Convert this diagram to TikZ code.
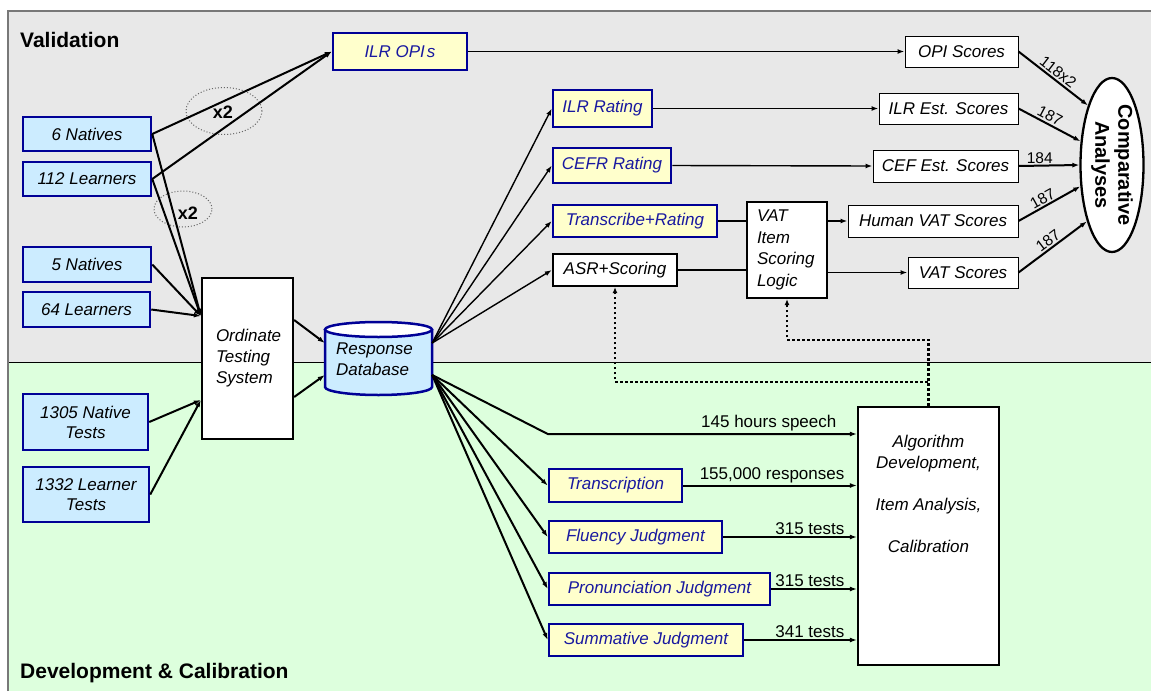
\documentclass[tikz,border=0pt]{standalone}
\usepackage{fontspec}
\setmainfont{Liberation Sans}
\usetikzlibrary{arrows.meta,calc,shapes.geometric}
\definecolor{bggray}{RGB}{232,232,232}
\definecolor{bggreen}{RGB}{221,255,221}
\definecolor{lblue}{RGB}{204,236,255}
\definecolor{lyellow}{RGB}{255,255,204}
\definecolor{navy}{RGB}{0,0,150}
\definecolor{tblue}{RGB}{25,25,160}
\definecolor{framegray}{RGB}{120,120,120}
\begin{document}
\begin{tikzpicture}[x=1pt,y=-1pt,
  box/.style={rectangle, inner sep=0pt, align=center, font=\fontsize{17}{20}\selectfont\itshape},
  bluebox/.style={box, fill=lblue, draw=navy, line width=2.5pt},
  yellowbox/.style={box, fill=lyellow, draw=navy, line width=2.5pt, text=tblue},
  blackbox/.style={box, fill=white, draw=black, line width=2.3pt},
  scorebox/.style={box, fill=white, draw=black, line width=1pt},
  arr/.style={-{Latex[length=7pt,width=5pt]}, line width=2pt},
  thinarr/.style={-{Latex[length=7pt,width=5pt]}, line width=1.4pt},
  plain/.style={line width=1.4pt},
  dotarr/.style={-{Latex[length=6pt,width=5pt]}, line width=2.5pt, dash pattern=on 2.5pt off 2.5pt},
  lbl/.style={font=\fontsize{17}{19}\selectfont, inner sep=1.5pt},
  rlbl/.style={font=\fontsize{15.5}{17}\selectfont, inner sep=1.5pt},
  title/.style={font=\fontsize{21}{24}\selectfont\bfseries, inner sep=0pt, anchor=base west},
  xtwo/.style={font=\fontsize{18}{20}\selectfont\bfseries, inner sep=0pt},
  ring/.style={ellipse, draw=gray!80!black, dotted, line width=1pt, inner sep=0pt}
]
\useasboundingbox (0,0) rectangle (1151,691);
% panels
\fill[bggray] (8,11) rectangle (1151,362);
\fill[bggreen] (8,362) rectangle (1151,691);
\draw[black, line width=0.8pt] (8,362) -- (1151,362);
\draw[framegray, line width=1.5pt] (8,691) -- (8,11) -- (1151,11);
\node[title] (vtitle) at (20,47) {Validation};
\node[title] (dtitle) at (20,678) {Development \& Calibration};

% left sources
\node[bluebox, minimum width=128, minimum height=34] (n6) at (87,134) {6 Natives};
\node[bluebox, minimum width=128, minimum height=34] (l112) at (87,179) {112 Learners};
\node[bluebox, minimum width=128, minimum height=35] (n5) at (87,264.5) {5 Natives};
\node[bluebox, minimum width=127, minimum height=35] (l64) at (86.5,309.5) {64 Learners};
\node[bluebox, minimum width=125, minimum height=56] (t1305) at (85.5,422) {1305 Native\\Tests};
\node[bluebox, minimum width=126, minimum height=55] (t1332) at (86,494.5) {1332 Learner\\Tests};

% rings
\node[ring, minimum width=76, minimum height=47] (e1) at (224,111) {};
\node[ring, minimum width=58, minimum height=36] (e2) at (183,209) {};
\node[xtwo] (x2a) at (223,112) {x2};
\node[xtwo] (x2b) at (188,213) {x2};

% ILR OPIs
\node[yellowbox, minimum width=134, minimum height=37] (ilropi) at (400,51.5) {ILR OPI\kern2pt s};

% Ordinate testing system
\node[blackbox, minimum width=91, minimum height=161, text width=63pt, inner xsep=14pt, align=left,
      font=\fontsize{17}{21}\selectfont\itshape] (ots) at (247.5,358.5) {Ordinate\\Testing\\System};

% Response database (cylinder)
\fill[lblue] (325,329.5) -- (325,387) arc[start angle=180,end angle=0,x radius=53.5,y radius=8] -- (432,329.5) -- cycle;
\draw[navy, line width=2.5pt] (325,329.5) -- (325,387) arc[start angle=180,end angle=0,x radius=53.5,y radius=8] -- (432,329.5);
\draw[navy, line width=2.5pt, fill=white] (378.5,329.5) ellipse[x radius=53.5, y radius=7.5];
\node[inner sep=0pt, minimum width=107, minimum height=73] (db) at (378.5,358.5) {};
\node[anchor=west, align=left, inner sep=0pt, font=\fontsize{17}{21}\selectfont\itshape] (dbt) at (336,359) {Response\\Database};

% upper middle boxes
\node[yellowbox, minimum width=99, minimum height=37] (ilrr) at (602.5,108.5) {ILR Rating};
\node[yellowbox, minimum width=118, minimum height=35] (cefr) at (612,165.5) {CEFR Rating};
\node[yellowbox, minimum width=164, minimum height=32] (trr) at (635,221) {Transcribe+Rating};
\node[blackbox, minimum width=124, minimum height=32] (asr) at (615,270) {ASR+Scoring};
\node[blackbox, minimum width=80, minimum height=96, text width=60pt, inner xsep=10pt, align=left,
      font=\fontsize{17}{21.5}\selectfont\itshape] (vat) at (787,250) {VAT\\Item\\Scoring\\Logic};

% score boxes
\node[scorebox, minimum width=113, minimum height=31] (opis) at (961.5,51.5) {OPI Scores};
\node[scorebox, minimum width=139, minimum height=31] (ilre) at (948.5,108.5) {ILR Est. Scores};
\node[scorebox, minimum width=145, minimum height=32] (cefe) at (945.5,166) {CEF Est. Scores};
\node[scorebox, minimum width=170, minimum height=32] (hvat) at (933,221) {Human VAT Scores};
\node[scorebox, minimum width=110, minimum height=31] (vats) at (963,272.5) {VAT Scores};

% comparative analyses
\node[ellipse, draw=black, fill=white, line width=2.3pt, minimum width=63, minimum height=174, inner sep=0pt] (ca) at (1112,165) {};
\node[rotate=-90, align=center, inner sep=0pt, font=\fontsize{20}{23}\selectfont\bfseries] (cat) at (1112,165) {Comparative\\Analyses};

% lower boxes
\node[yellowbox, minimum width=133, minimum height=33] (trans) at (615.5,485.5) {Transcription};
\node[yellowbox, minimum width=173, minimum height=32] (flu) at (635.5,537) {Fluency Judgment};
\node[yellowbox, minimum width=221, minimum height=32] (pron) at (659.5,589) {Pronunciation Judgment};
\node[yellowbox, minimum width=194, minimum height=32] (summ) at (646,640) {Summative Judgment};
\node[blackbox, minimum width=141, minimum height=258] (alg) at (928.5,536) {};
\node[anchor=north, align=center, inner sep=0pt, font=\fontsize{17}{21}\selectfont\itshape] (algt) at ([yshift=-29pt]alg.north)
  {Algorithm\\Development,\\[21pt]Item Analysis,\\[21pt]Calibration};

% sources -> ILR OPIs
\draw[arr] (n6.east) -- (ilropi.west);
\draw[arr] (l112.east) -- (ilropi.west);
% sources -> ordinate
\draw[arr] (n6.east) -- ([yshift=42.5pt]ots.west);
\draw[arr] (l112.east) -- ([yshift=42.5pt]ots.west);
\draw[arr] (n5.east) -- ([yshift=42.5pt]ots.west);
\draw[arr] (l64.east) -- ([yshift=42.5pt]ots.west);
\draw[arr] (t1305.east) -- ([yshift=-41.5pt]ots.west);
\draw[arr] (t1332.east) -- ([yshift=-41.5pt]ots.west);
% ordinate -> db
\draw[arr] ([yshift=38.5pt]ots.east) -- ([yshift=15.5pt]db.west);
\draw[arr] ([yshift=-38.5pt]ots.east) -- ([yshift=-16.5pt]db.west);
% db -> upper
\draw[thinarr] ([yshift=15.5pt]db.east) -- (ilrr.west);
\draw[thinarr] ([yshift=15.5pt]db.east) -- (cefr.west);
\draw[thinarr] ([yshift=15.5pt]db.east) -- (trr.west);
\draw[thinarr] ([yshift=15.5pt]db.east) -- (asr.west);
% upper -> scores
\draw[thinarr] (ilropi.east) -- (opis.west);
\draw[thinarr] (ilrr.east) -- (ilre.west);
\draw[thinarr] (cefr.east) -- (cefe.west);
\draw[plain] (trr.east) -- (trr.east -| vat.west);
\draw[plain] (asr.east) -- (asr.east -| vat.west);
\draw[thinarr] (vat.east |- hvat.west) -- (hvat.west);
\draw[thinarr] (vat.east |- vats.west) -- (vats.west);
% scores -> comparative
\draw[arr] (opis.east) -- node[rlbl, sloped, above, pos=0.5] {118x2} (ca.112);
\draw[arr] (ilre.east) -- node[rlbl, sloped, above, pos=0.45] {187} (ca.143);
\draw[arr] (cefe.east) -- node[rlbl, above, pos=0.35] {184} (ca.180);
\draw[arr] (hvat.east) -- node[rlbl, sloped, above, pos=0.45] {187} (ca.214);
\draw[arr] (vats.east) -- node[rlbl, sloped, above, pos=0.5] {187} (ca.246);
% db -> lower
\draw[arr] ([yshift=-16.5pt]db.east) -- ([yshift=102pt]alg.west -| trans.west) -- node[lbl, pos=1, anchor=south east, xshift=-18pt] {145 hours speech} ([yshift=102pt]alg.west);
\draw[arr] ([yshift=-16.5pt]db.east) -- (trans.west);
\draw[arr] ([yshift=-16.5pt]db.east) -- (flu.west);
\draw[arr] ([yshift=-16.5pt]db.east) -- (pron.west);
\draw[arr] ([yshift=-16.5pt]db.east) -- (summ.west);
\draw[arr] (trans.east) -- node[lbl, pos=1, anchor=south east, xshift=-10pt] {155,000 responses} (trans.east -| alg.west);
\draw[arr] (flu.east) -- node[lbl, pos=1, anchor=south east, xshift=-10pt] {315 tests} (flu.east -| alg.west);
\draw[arr] (pron.east) -- node[lbl, pos=1, anchor=south east, xshift=-10pt] {315 tests} (pron.east -| alg.west);
\draw[arr] (summ.east) -- node[lbl, pos=1, anchor=south east, xshift=-10pt] {341 tests} (summ.east -| alg.west);
% feedback dotted
\draw[dotarr] (alg.north) -- ++(0,-24) -| (asr.south);
\draw[dotarr] (alg.north) -- ++(0,-66) -| (vat.south);
\end{tikzpicture}
\end{document}
